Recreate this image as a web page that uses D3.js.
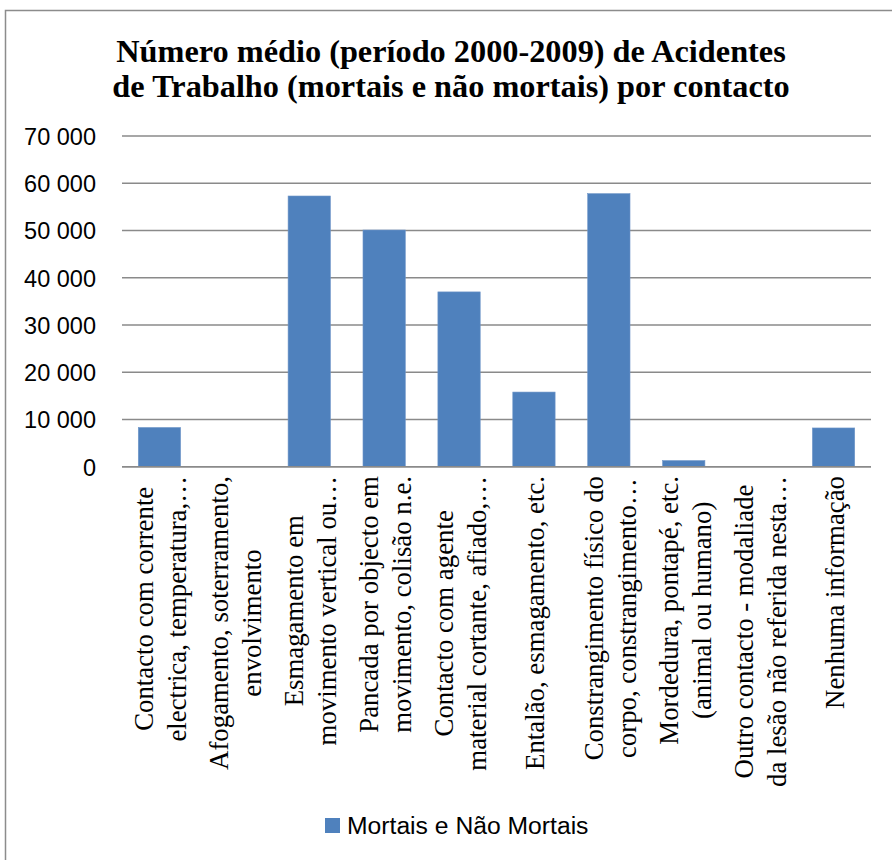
<!DOCTYPE html>
<html>
<head>
<meta charset="utf-8">
<script src="https://cdn.jsdelivr.net/npm/d3@7"></script>
<style>
  html, body { margin: 0; padding: 0; background: #fff; }
  svg { display: block; }
</style>
</head>
<body>
<script>
const categories = [
  ["Contacto com corrente", "electrica, temperatura,…"],
  ["Afogamento, soterramento,", "envolvimento"],
  ["Esmagamento em", "movimento vertical ou…"],
  ["Pancada por objecto em", "movimento, colisão n.e."],
  ["Contacto com agente", "material cortante, afiado,…"],
  ["Entalão, esmagamento, etc."],
  ["Constrangimento físico do", "corpo, constrangimento…"],
  ["Mordedura, pontapé, etc.", "(animal ou humano)"],
  ["Outro contacto - modaliade", "da lesão não referida nesta…"],
  ["Nenhuma informação"]
];
const values = [8300, 30, 57300, 50100, 37000, 15800, 57800, 1300, 60, 8200];
const yTicks = [0, 10000, 20000, 30000, 40000, 50000, 60000, 70000];
const titleLines = ["Número médio (período 2000-2009) de Acidentes", "de Trabalho (mortais e não mortais) por contacto"];
const seriesName = "Mortais e Não Mortais";

const W = 892, H = 860;
const svg = d3.select("body").append("svg").attr("width", W).attr("height", H);

// chart border (left and top visible)
svg.append("path")
  .attr("d", "M5.5,860 L5.5,10.5 L892,10.5")
  .attr("fill", "none").attr("stroke", "#8c8c8c").attr("stroke-width", 1.5);

// title
svg.append("g").selectAll("text").data(titleLines).join("text")
  .attr("x", 451).attr("y", (d, i) => 62 + i * 35)
  .attr("text-anchor", "middle")
  .style("font-family", "'Liberation Serif', 'Times New Roman', serif")
  .style("font-weight", "bold").style("font-size", "32.3px").style("fill", "#000")
  .text(d => d);

const x = d3.scaleBand().domain(d3.range(categories.length)).range([122, 871]).paddingInner(0.435).paddingOuter(0.2175);
const y = d3.scaleLinear().domain([0, 70000]).range([466.7, 136]);

const fmt = v => d3.format(",")(v).replace(/,/g, " ");

// gridlines
svg.append("g").selectAll("line").data(yTicks).join("line")
  .attr("x1", 122).attr("x2", 871)
  .attr("y1", d => y(d)).attr("y2", d => y(d))
  .attr("stroke", "#8a8a8a").attr("stroke-width", 1.6);

// y axis via d3 axis (labels only)
const yAxis = svg.append("g").attr("transform", "translate(96,0)")
  .call(d3.axisLeft(y).tickValues(yTicks).tickFormat(fmt).tickSize(0).tickPadding(0));
yAxis.select(".domain").remove();
yAxis.selectAll("text")
  .style("font-family", "'Liberation Sans', Arial, sans-serif")
  .style("font-size", "23.5px").attr("fill", "#000").attr("dy", "0.36em");

// bars
svg.append("g").selectAll("rect").data(values).join("rect")
  .attr("x", (d, i) => x(i)).attr("width", x.bandwidth())
  .attr("y", d => y(d)).attr("height", d => y(0) - y(d))
  .attr("fill", "#4F81BD").attr("stroke", "#7096c8").attr("stroke-width", 0.6);

// baseline axis
svg.append("line").attr("x1", 122).attr("x2", 871).attr("y1", y(0)).attr("y2", y(0))
  .attr("stroke", "#8a8a8a").attr("stroke-width", 1.6);

// category labels (rotated)
const lineGap = 33;
const labelG = svg.append("g");
categories.forEach((lines, i) => {
  const cx = x(i) + x.bandwidth() / 2;
  const g = labelG.append("g");
  const texts = g.selectAll("text").data(lines).join("text")
    .attr("text-anchor", "middle")
    .attr("dominant-baseline", "central")
    .style("font-family", "'Liberation Serif', 'Times New Roman', serif")
    .style("font-size", "26.8px").attr("fill", "#000")
    .text(d => d);
  let maxLen = 0;
  texts.each(function () { maxLen = Math.max(maxLen, this.getComputedTextLength()); });
  const cy = 476 + maxLen / 2;
  const n = lines.length;
  texts.attr("x", 0).attr("y", (d, j) => (j - (n - 1) / 2) * lineGap + 1.5);
  g.attr("transform", `translate(${cx},${cy}) rotate(-90)`);
});

// legend
const lg = svg.append("g");
lg.append("rect").attr("x", 325).attr("y", 818).attr("width", 15).attr("height", 15).attr("fill", "#4F81BD");
lg.append("text").attr("x", 347).attr("y", 825.5).attr("dominant-baseline", "central")
  .style("font-family", "'Liberation Sans', Arial, sans-serif").style("font-size", "24.7px")
  .attr("fill", "#000").text(seriesName);
</script>
</body>
</html>
